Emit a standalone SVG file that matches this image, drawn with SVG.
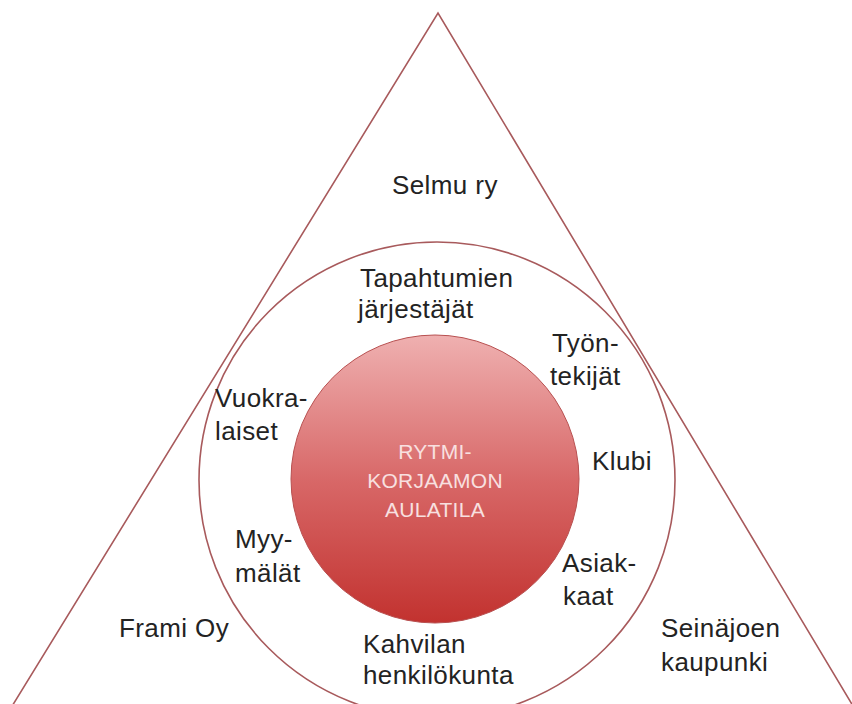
<svg xmlns="http://www.w3.org/2000/svg" width="852" height="704" viewBox="0 0 852 704">
  <defs>
    <linearGradient id="redGrad" x1="0" y1="0" x2="0" y2="1">
      <stop offset="0" stop-color="#efb0b0"/>
      <stop offset="0.5" stop-color="#d86868"/>
      <stop offset="1" stop-color="#c2322f"/>
    </linearGradient>
    <style>
      .edge { fill: none; stroke: #a85a5c; stroke-width: 1.6; }
      .lbl { font-family: "Liberation Sans", Arial, sans-serif; font-size: 26px; fill: #232323; letter-spacing: 0.4px; }
      .core { font-family: "Liberation Sans", Arial, sans-serif; font-size: 21px; fill: #f8e0e0; text-anchor: middle; letter-spacing: 0.3px; }
    </style>
  </defs>
  <rect width="852" height="704" fill="#ffffff"/>

  <g id="triangle">
    <path class="edge" d="M 6,716 L 438,13 L 859,716"/>
    <text class="lbl" x="392" y="194">Selmu ry</text>
    <text class="lbl" x="119" y="637">Frami Oy</text>
    <text class="lbl" x="661" y="637">Seinäjoen</text>
    <text class="lbl" x="661" y="671">kaupunki</text>
  </g>

  <g id="outer-circle">
    <circle class="edge" cx="437" cy="480" r="238"/>
    <text class="lbl" x="360" y="287">Tapahtumien</text>
    <text class="lbl" x="358" y="318">järjestäjät</text>
    <text class="lbl" x="552" y="352">Työn-</text>
    <text class="lbl" x="550" y="385">tekijät</text>
    <text class="lbl" x="215" y="407">Vuokra-</text>
    <text class="lbl" x="215" y="440">laiset</text>
    <text class="lbl" x="592" y="470">Klubi</text>
    <text class="lbl" x="235" y="548">Myy-</text>
    <text class="lbl" x="235" y="582">mälät</text>
    <text class="lbl" x="562" y="572">Asiak-</text>
    <text class="lbl" x="563" y="605">kaat</text>
    <text class="lbl" x="363" y="653">Kahvilan</text>
    <text class="lbl" x="363" y="684">henkilökunta</text>
  </g>

  <g id="inner-circle">
    <circle cx="435" cy="479" r="144" fill="url(#redGrad)" stroke="#b85050" stroke-width="1"/>
    <text class="core" x="435" y="459">RYTMI-</text>
    <text class="core" x="435" y="488">KORJAAMON</text>
    <text class="core" x="435" y="517">AULATILA</text>
  </g>
</svg>
